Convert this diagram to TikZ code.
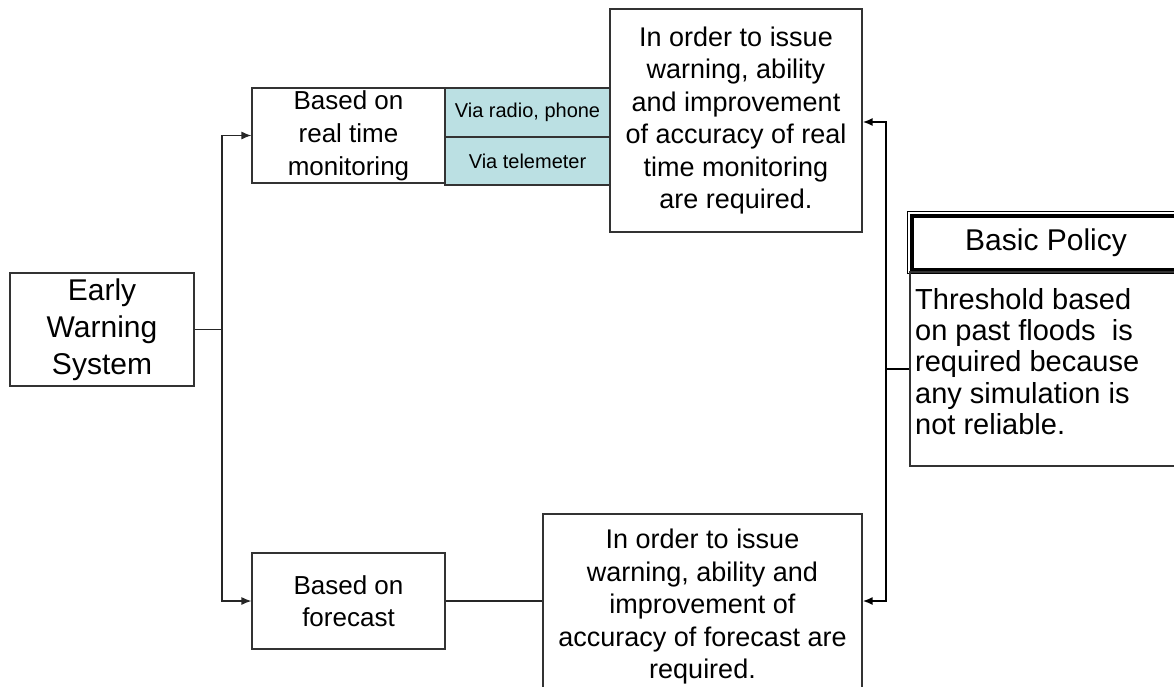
\documentclass[tikz,border=0pt]{standalone}
\usepackage{fontspec}
\setmainfont{Liberation Sans}
\usetikzlibrary{arrows.meta}
\definecolor{tuerkis}{RGB}{187,224,227}

\begin{document}
\begin{tikzpicture}[x=1pt,y=-1pt,
  box/.style={draw=black!80,line width=1.1pt,inner sep=0pt,align=center,font=\fontsize{27}{32.5}\selectfont},
  viabox/.style={box,fill=tuerkis,minimum width=165pt,font=\fontsize{20}{22}\selectfont},
  conn/.style={draw=black!85,line width=1.3pt},
  pfeil/.style={conn,-{Latex[length=10pt,width=8pt]}},
  bus/.style={draw=black,line width=2pt},
  buspfeil/.style={bus,-{Latex[length=10pt,width=8pt]}}]
\useasboundingbox (0,0) rectangle (1174,686);
%
% node: left
\node[box,minimum width=184pt,minimum height=113pt,font=\fontsize{30}{37}\selectfont] (ews) at (102,329.5) {Early\\Warning\\System};
%
% node: real time branch
\node[box,minimum width=193pt,minimum height=95pt,font=\fontsize{26}{33}\selectfont] (rt) at (348.5,135.5) {Based on\\real time\\monitoring};
\node[viabox,minimum height=49pt] (via1) at (527.5,112.5) {Via radio, phone};
\node[viabox,minimum height=48pt] (via2) at (527.5,161) {Via telemeter};
\node[box,minimum width=252pt,minimum height=223pt] (rtreq) at (736,120.5) {In order to issue\\warning, ability\\and improvement\\of accuracy of real\\time monitoring\\are required.};
%
% node: forecast branch
\node[box,minimum width=193pt,minimum height=96pt,font=\fontsize{26}{32}\selectfont] (fc) at (348.5,601) {Based on\\forecast};
\node[box,minimum width=319pt,minimum height=186pt] (fcreq) at (702.5,607) {In order to issue\\warning, ability and\\improvement of\\accuracy of forecast are\\required.};
%
% node: basic policy
\draw[line width=0.8pt] (907,211) rectangle (1200,273);
\node[box,draw=black,line width=3.5pt,minimum width=268pt,minimum height=54pt,font=\fontsize{30}{36}\selectfont] (policy) at (1046,243) {Basic Policy};
\node[box,minimum width=280pt,minimum height=194pt] (bodyframe) at (1050,369) {};
\node[draw=none,anchor=north west,inner sep=0pt,align=left,font=\fontsize{29}{31.3}\selectfont] (body) at (915,288) {Threshold based\\on past floods\ \ is\\required because\\any simulation is\\not reliable.};
%
% path: connectors
\coordinate (split) at (222,329.5);
\coordinate (join) at (886,369);
\draw[conn] (ews.east) -- (split);
\draw[pfeil] (split) |- (rt.west);
\draw[pfeil] (split) |- (fc.west);
\draw[conn] (fc.east) -- (fc.east -| fcreq.west);
\draw[bus] (bodyframe.west) -- (join);
\draw[buspfeil] (join) |- (rtreq.east |- 0,122);
\draw[buspfeil] (join) |- (fcreq.east |- fc.east);

\end{tikzpicture}
\end{document}
